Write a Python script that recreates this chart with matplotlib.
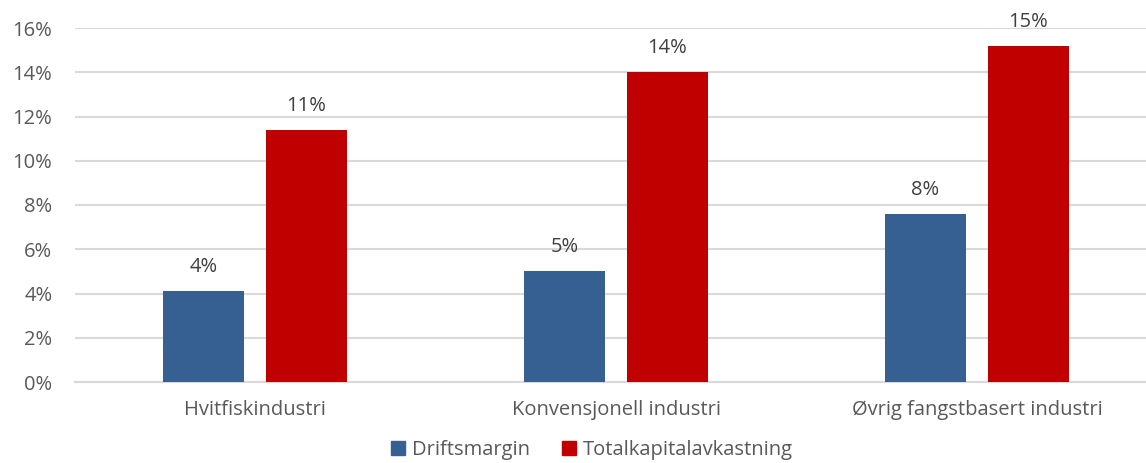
import numpy as np
import matplotlib.pyplot as plt
from matplotlib.patches import Patch
from matplotlib.ticker import FuncFormatter

# data
categories = ['Hvitfiskindustri', 'Konvensjonell industri', 'Øvrig fangstbasert industri']
driftsmargin = [4.1, 5.0, 7.6]
totalkapital = [11.4, 14.0, 15.2]
series_names = ['Driftsmargin', 'Totalkapitalavkastning']

plt.rcParams['font.family'] = ['Open Sans', 'DejaVu Sans']

W, H = 1146, 463
fig = plt.figure(figsize=(W / 100, H / 100), dpi=100)
# plot area runs a little past the right edge (cropped like the original)
left, right, top, bottom = 74.5, 1157.5, 28, 382
ax = fig.add_axes([left / W, (H - bottom) / H, (right - left) / W, (bottom - top) / H])

x = np.arange(len(categories))
w = 0.224
off = 0.1427
blue = '#376092'
red = '#C00000'
fs = 14.5
b1 = ax.bar(x - off, driftsmargin, w, color=blue, zorder=3)
b2 = ax.bar(x + off, totalkapital, w, color=red, zorder=3)

for bars, vals in [(b1, driftsmargin), (b2, totalkapital)]:
    for rect, v in zip(bars, vals):
        ax.annotate(f'{v:.0f}%', (rect.get_x() + rect.get_width() / 2, v),
                    xytext=(0, 10), textcoords='offset points',
                    ha='center', va='bottom', fontsize=fs, color='#404040')

ax.set_xlim(-0.5, 2.5)
ax.set_ylim(0, 16)
ax.set_yticks(range(0, 17, 2))
ax.yaxis.set_major_formatter(FuncFormatter(lambda v, p: f'{v:.0f}%'))
ax.set_xticks(x)
ax.set_xticklabels(categories)
ax.tick_params(axis='both', length=0, labelsize=fs, colors='#595959')
ax.tick_params(axis='y', pad=16)
ax.tick_params(axis='x', pad=13)
ax.grid(axis='y', color='#D9D9D9', linewidth=1.5, zorder=0)
for s in ['top', 'right', 'left']:
    ax.spines[s].set_visible(False)
ax.spines['bottom'].set_color('#D9D9D9')
ax.spines['bottom'].set_linewidth(1.5)

handles = [Patch(color=blue), Patch(color=red)]
fig.legend(handles, series_names, loc='center', bbox_to_anchor=(592 / W, 1 - 450 / H),
           ncol=2, frameon=False, fontsize=fs, labelcolor='#595959',
           handlelength=0.7, handleheight=0.7, handletextpad=0.35, columnspacing=1.6,
           borderpad=0.1)

fig.savefig('out.png', dpi=100)
